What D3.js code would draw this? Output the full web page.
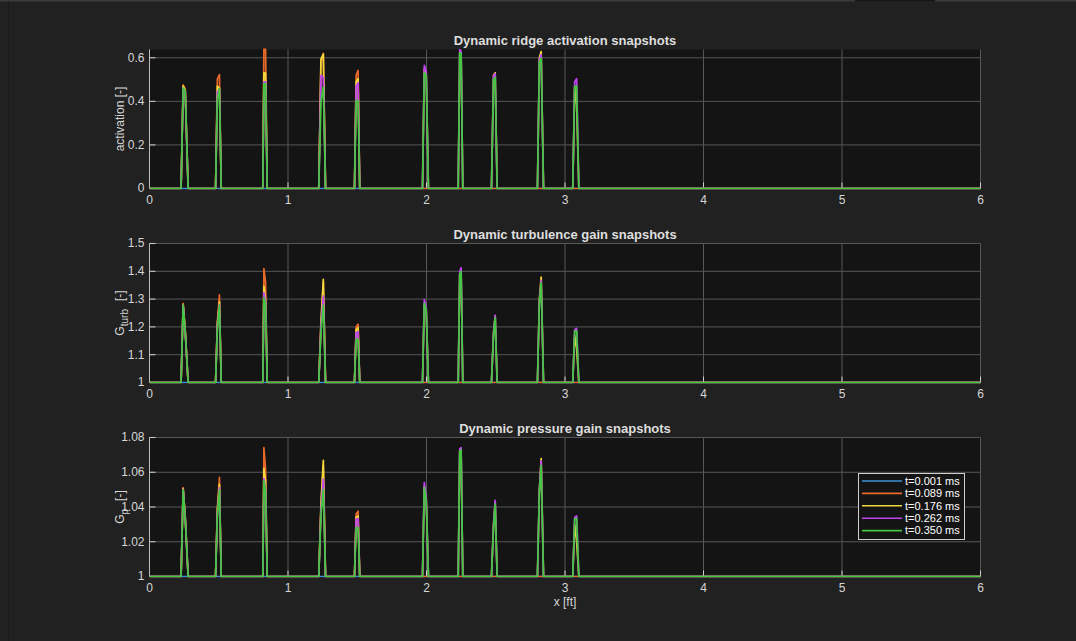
<!DOCTYPE html>
<html>
<head>
	<title>Dynamic ridge snapshots</title>
	<script src="https://cdn.jsdelivr.net/npm/d3@7" charset="utf-8"></script>
	<style>
		body { margin: 0; background: #212121; overflow: hidden; }
		#fig { position: absolute; left: 0; top: 0; }
		text { font-family: "Liberation Sans", Arial, Helvetica, sans-serif; }
	</style>
</head>
<body>
	<div id="fig"></div>
	<script>
		// sample positions along the ridge [ft]
		var xFt = [0,
			0.228, 0.243, 0.258, 0.279,
			0.477, 0.490, 0.505, 0.518,
			0.818, 0.826, 0.838, 0.850,
			1.222, 1.238, 1.255, 1.271,
			1.480, 1.492, 1.506, 1.518,
			1.971, 1.984, 1.998, 2.014,
			2.229, 2.240, 2.250, 2.262,
			2.469, 2.484, 2.496, 2.510,
			2.801, 2.815, 2.828, 2.845,
			3.056, 3.070, 3.084, 3.100,
			6];

		var snapLabels = ["t=0.001 ms", "t=0.089 ms", "t=0.176 ms", "t=0.262 ms", "t=0.350 ms"];
		var snapColors = ["#3a8fd6", "#e8682a", "#f2d83c", "#c043f2", "#42c83f"];

		// activation [-]
		var act001 = [0, 0,0,0,0, 0,0,0,0, 0,0,0,0, 0,0,0,0, 0,0,0,0, 0,0,0,0, 0,0,0,0, 0,0,0,0, 0,0,0,0, 0,0,0,0, 0];
		var act089 = [0,
			0, 0.476, 0.455, 0,  0, 0.503, 0.523, 0,  0, 0.66, 0.64, 0,  0, 0.58, 0.62, 0,  0, 0.52, 0.542, 0,
			0, 0, 0, 0,  0, 0, 0, 0,  0, 0, 0, 0,  0, 0, 0, 0,  0, 0, 0, 0,  0];
		var act176 = [0,
			0, 0.47, 0.45, 0,  0, 0.47, 0.46, 0,  0, 0.531, 0.53, 0,  0, 0.595, 0.617, 0,  0, 0.49, 0.504, 0,
			0, 0.55, 0.53, 0,  0, 0.625, 0.62, 0,  0, 0.52, 0.531, 0,  0, 0.60, 0.629, 0,  0, 0.47, 0.38, 0,  0];
		var act262 = [0,
			0, 0.46, 0.44, 0,  0, 0.443, 0.455, 0,  0, 0.49, 0.49, 0,  0, 0.519, 0.51, 0,  0, 0.47, 0.485, 0,
			0, 0.565, 0.54, 0,  0, 0.638, 0.63, 0,  0, 0.515, 0.527, 0,  0, 0.59, 0.614, 0,  0, 0.49, 0.504, 0,  0];
		var act350 = [0,
			0, 0.461, 0.45, 0,  0, 0.41, 0.458, 0,  0, 0.481, 0.48, 0,  0, 0.40, 0.465, 0,  0, 0.403, 0.403, 0,
			0, 0.531, 0.52, 0,  0, 0.623, 0.62, 0,  0, 0.50, 0.51, 0,  0, 0.58, 0.598, 0,  0, 0.469, 0.47, 0,  0];

		// turbulence gain G_turb [-]
		var gt001 = [1, 1,1,1,1, 1,1,1,1, 1,1,1,1, 1,1,1,1, 1,1,1,1, 1,1,1,1, 1,1,1,1, 1,1,1,1, 1,1,1,1, 1,1,1,1, 1];
		var gt089 = [1,
			1, 1.285, 1.19, 1,  1, 1.22, 1.315, 1,  1, 1.41, 1.36, 1,  1, 1.20, 1.36, 1,  1, 1.20, 1.21, 1,
			1, 1, 1, 1,  1, 1, 1, 1,  1, 1, 1, 1,  1, 1, 1, 1,  1, 1, 1, 1,  1];
		var gt176 = [1,
			1, 1.28, 1.185, 1,  1, 1.21, 1.29, 1,  1, 1.347, 1.30, 1,  1, 1.22, 1.371, 1,  1, 1.19, 1.197, 1,
			1, 1.28, 1.26, 1,  1, 1.39, 1.39, 1,  1, 1.18, 1.24, 1,  1, 1.30, 1.379, 1,  1, 1.17, 1.12, 1,  1];
		var gt262 = [1,
			1, 1.278, 1.18, 1,  1, 1.20, 1.28, 1,  1, 1.323, 1.29, 1,  1, 1.20, 1.311, 1,  1, 1.18, 1.182, 1,
			1, 1.299, 1.27, 1,  1, 1.40, 1.413, 1,  1, 1.18, 1.242, 1,  1, 1.29, 1.367, 1,  1, 1.19, 1.195, 1,  1];
		var gt350 = [1,
			1, 1.278, 1.18, 1,  1, 1.19, 1.278, 1,  1, 1.305, 1.28, 1,  1, 1.18, 1.278, 1,  1, 1.155, 1.156, 1,
			1, 1.285, 1.26, 1,  1, 1.39, 1.40, 1,  1, 1.17, 1.233, 1,  1, 1.28, 1.359, 1,  1, 1.185, 1.186, 1,  1];

		// pressure gain G_p [-]
		var gp001 = [1, 1,1,1,1, 1,1,1,1, 1,1,1,1, 1,1,1,1, 1,1,1,1, 1,1,1,1, 1,1,1,1, 1,1,1,1, 1,1,1,1, 1,1,1,1, 1];
		var gp089 = [1,
			1, 1.0512, 1.035, 1,  1, 1.040, 1.057, 1,  1, 1.0742, 1.062, 1,  1, 1.040, 1.064, 1,  1, 1.036, 1.0376, 1,
			1, 1, 1, 1,  1, 1, 1, 1,  1, 1, 1, 1,  1, 1, 1, 1,  1, 1, 1, 1,  1];
		var gp176 = [1,
			1, 1.0505, 1.034, 1,  1, 1.038, 1.053, 1,  1, 1.0622, 1.055, 1,  1, 1.042, 1.0669, 1,  1, 1.034, 1.0349, 1,
			1, 1.052, 1.045, 1,  1, 1.072, 1.072, 1,  1, 1.030, 1.043, 1,  1, 1.050, 1.0679, 1,  1, 1.030, 1.020, 1,  1];
		var gp262 = [1,
			1, 1.050, 1.034, 1,  1, 1.036, 1.051, 1,  1, 1.0564, 1.050, 1,  1, 1.038, 1.056, 1,  1, 1.033, 1.0334, 1,
			1, 1.0541, 1.046, 1,  1, 1.0735, 1.0742, 1,  1, 1.030, 1.0439, 1,  1, 1.049, 1.0665, 1,  1, 1.034, 1.0349, 1,  1];
		var gp350 = [1,
			1, 1.0499, 1.033, 1,  1, 1.035, 1.0499, 1,  1, 1.055, 1.049, 1,  1, 1.035, 1.0502, 1,  1, 1.028, 1.0282, 1,
			1, 1.0512, 1.044, 1,  1, 1.072, 1.0729, 1,  1, 1.028, 1.0416, 1,  1, 1.048, 1.064, 1,  1, 1.033, 1.0334, 1,  1];

		var xTicks = [0, 1, 2, 3, 4, 5, 6];
		var actTicks = [0, 0.2, 0.4, 0.6];
		var gtTicks = [1, 1.1, 1.2, 1.3, 1.4, 1.5];
		var gpTicks = [1, 1.02, 1.04, 1.06, 1.08];

		var panels = [
			{ title: "Dynamic ridge activation snapshots", yLabel: ["activation [-]"], yDomain: [0, 0.638], yTicks: actTicks, series: [act001, act089, act176, act262, act350] },
			{ title: "Dynamic turbulence gain snapshots", yLabel: ["G", "turb", "[-]"], yDomain: [1, 1.5], yTicks: gtTicks, series: [gt001, gt089, gt176, gt262, gt350] },
			{ title: "Dynamic pressure gain snapshots", yLabel: ["G", "p", "[-]"], yDomain: [1, 1.08], yTicks: gpTicks, series: [gp001, gp089, gp176, gp262, gp350] }
		];

		var w = 1076, h = 641;
		var left = 149.5, right = 980.5;
		var tops = [49.5, 243.5, 437.5];
		var ph = 139;
		var textCol = "#d6d6d6";

		var svg = d3.select("#fig").append("svg")
			.attr("width", w)
			.attr("height", h);

		// window chrome
		svg.append("rect").attr("x", 0).attr("y", 0).attr("width", w).attr("height", 1.5).attr("fill", "#3b3b3b");
		svg.append("rect").attr("x", 855).attr("y", 0).attr("width", 80).attr("height", 1.5).attr("fill", "#151515");
		svg.append("rect").attr("x", 8).attr("y", 1.5).attr("width", 1).attr("height", h).attr("fill", "#1b1b1b");

		var x = d3.scaleLinear().domain([0, 6]).range([left, right]);

		panels.forEach(function(p, i) {
			var top = tops[i];
			var y = d3.scaleLinear().domain(p.yDomain).range([top + ph, top]);
			var g = svg.append("g");

			g.append("rect")
				.attr("x", left).attr("y", top)
				.attr("width", right - left).attr("height", ph)
				.attr("fill", "#141414");

			// grid
			g.selectAll(".gx").data(xTicks).enter().append("line")
				.attr("x1", function(d) { return x(d); }).attr("x2", function(d) { return x(d); })
				.attr("y1", top).attr("y2", top + ph)
				.attr("stroke", "#575757").attr("stroke-width", 1);
			g.selectAll(".gy").data(p.yTicks.slice(1)).enter().append("line")
				.attr("x1", left).attr("x2", right)
				.attr("y1", function(d) { return y(d); }).attr("y2", function(d) { return y(d); })
				.attr("stroke", "#575757").attr("stroke-width", 1);

			// axes with inward ticks (drawn under the data)
			var xAxis = d3.axisBottom(x).tickValues(xTicks).tickSizeInner(-6).tickSizeOuter(0).tickPadding(9)
				.offset(0).tickFormat(d3.format("d"));
			var yAxis = d3.axisLeft(y).tickValues(p.yTicks).tickSizeInner(-6).tickSizeOuter(0).tickPadding(5)
				.offset(0).tickFormat(function(d) { return String(+d.toFixed(2)); });

			var ax = g.append("g").attr("transform", "translate(0," + (top + ph) + ")").call(xAxis);
			var ay = g.append("g").attr("transform", "translate(" + left + ",0)").call(yAxis);
			[ax, ay].forEach(function(a) {
				a.select(".domain").attr("stroke", "#bdbdbd").attr("stroke-width", 1);
				a.selectAll(".tick line").attr("stroke", "#d0d0d0");
				a.selectAll(".tick text").attr("fill", textCol).style("font-size", "12px");
			});
			ax.selectAll(".tick text").attr("dy", "0.5em");

			// data lines, clipped to the axes
			var clipId = "clip" + i;
			svg.append("clipPath").attr("id", clipId).append("rect")
				.attr("x", left).attr("y", top - 1).attr("width", right - left + 1).attr("height", ph + 2);

			var line = d3.line()
				.x(function(d, k) { return x(xFt[k]); })
				.y(function(d) { return y(d); });

			g.append("g").attr("clip-path", "url(#" + clipId + ")")
				.selectAll("path").data(p.series).enter().append("path")
				.attr("d", line)
				.attr("fill", "none")
				.attr("stroke", function(d, k) { return snapColors[k]; })
				.attr("stroke-width", 1.7)
				.attr("stroke-linejoin", "round");

			// title
			g.append("text")
				.attr("x", (left + right) / 2).attr("y", top - 5)
				.attr("text-anchor", "middle")
				.attr("fill", "#dedede")
				.style("font-size", "13px").style("font-weight", "bold")
				.text(p.title);

			// y label
			var yl = g.append("text")
				.attr("transform", "translate(124," + (top + ph / 2) + ") rotate(-90)")
				.attr("text-anchor", "middle")
				.attr("fill", textCol)
				.style("font-size", "12px");
			yl.append("tspan").text(p.yLabel[0]);
			if (p.yLabel.length > 1) {
				yl.append("tspan").attr("dy", 4).style("font-size", "10px").text(p.yLabel[1]);
				yl.append("tspan").attr("dy", -4).attr("dx", 8).text(p.yLabel[2]);
			}
		});

		// x label
		svg.append("text")
			.attr("x", (left + right) / 2).attr("y", 606)
			.attr("text-anchor", "middle")
			.attr("fill", textCol)
			.style("font-size", "12px")
			.text("x [ft]");

		// legend
		var lg = svg.append("g").attr("transform", "translate(858.5,473.5)");
		lg.append("rect").attr("width", 106).attr("height", 66)
			.attr("fill", "#141414").attr("stroke", "#cfcfcf").attr("stroke-width", 1);
		var rows = lg.selectAll(".row").data(snapLabels).enter().append("g")
			.attr("transform", function(d, k) { return "translate(0," + (7.5 + k * 12.4) + ")"; });
		rows.append("line")
			.attr("x1", 3.5).attr("x2", 43.5)
			.attr("stroke", function(d, k) { return snapColors[k]; })
			.attr("stroke-width", 1.6);
		rows.append("text")
			.attr("x", 46.5).attr("dy", "0.35em")
			.attr("fill", "#ffffff")
			.style("font-size", "11px")
			.text(function(d) { return d; });
	</script>
</body>
</html>
